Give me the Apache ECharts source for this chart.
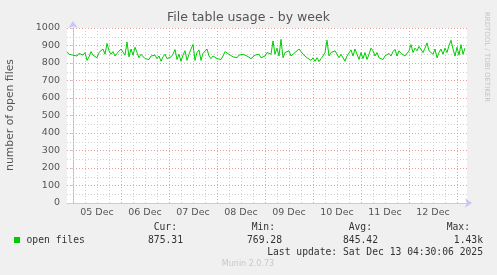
<!DOCTYPE html>
<html>
<head>
<meta charset="utf-8">
<script src="https://cdn.jsdelivr.net/npm/echarts@6/dist/echarts.min.js"></script>
<style>
html,body{margin:0;padding:0;background:#f0f0f0;}
#c{width:497px;height:275px;}
</style>
</head>
<body>
<div id="c"></div>
<script>
// Hours relative to 05 Dec 00:00; one sample per hour starting 04 Dec 21:00
const startHour = -3;
const stepHours = 1;
const openFiles = [
  865,850,855,845,850,840,855,850,845,860,815,835,865,845,855,830,860,870,880,850,
  912,870,850,865,840,855,850,880,890,845,920,835,880,845,890,860,830,850,840,825,
  835,820,840,830,845,825,840,810,835,850,825,830,
  835,850,877,820,850,810,845,870,815,850,880,906,815,860,875,815,855,860,880,840,
  825,840,830,825,835,820,840,865,860,850,840,835,825,830,845,835,850,855,840,835,
  825,815,845,855,850,830,835,840,860,855,
  850,926,850,885,840,935,830,860,850,870,840,845,860,850,880,890,850,840,830,840,
  815,830,810,830,808,825,840,860,930,840,860,850,870,880,830,850,860,810,840,850,
  875,840,880,850,820,860,825,860,820,850,
  885,870,840,860,830,840,820,840,850,855,840,865,878,840,870,855,850,840,850,870,
  905,860,885,870,895,885,860,885,915,870,880,850,880,830,860,880,850,885,860,900,
  930,880,840,890,845,905,850,885
];
const tickLabels = ['05 Dec','06 Dec','07 Dec','08 Dec','09 Dec','10 Dec','11 Dec','12 Dec'];
const tickHours = [12,36,60,84,108,132,156,180];
const dayLines = [0,24,48,72,96,120,144,168,192];
const quarterLines = [6,12,18,30,36,42,54,60,66,78,84,90,102,108,114,126,132,138,150,156,162,174,180,186];
const yTicks = [0,100,200,300,400,500,600,700,800,900,1000];
const legendHeaders = ['Cur:','Min:','Avg:','Max:'];
const legendValues = ['875.31','769.28','845.42','1.43k'];
const seriesName = 'open files';

const pts = openFiles.map((v,i)=>[startHour + i*stepHours, v]);

const chart = echarts.init(document.getElementById('c'), null, {renderer:'canvas'});
const axisCol = '#c8c8f0';
const majorGrid = {color:'#e8a0a0', type:[1,2], width:1};
const minorGrid = {color:'#d0d0d0', type:[1,2], width:1};
const mono = '"DejaVu Sans Mono", monospace';
const sans = '"DejaVu Sans", sans-serif';

const markData = [];
quarterLines.forEach(h=>markData.push({xAxis:h, lineStyle:minorGrid}));
dayLines.forEach(h=>markData.push({xAxis:h, lineStyle:majorGrid}));

const hdrRight = [177,275,372,470];
const valRight = [183,282,378,483];
const graphics = [
  {type:'text', left:'center', top:11, style:{text:'File table usage - by week', font:'12.5px '+sans, fill:'#555'}},
  {type:'text', x:10, y:115, rotation:Math.PI/2, style:{text:'number of open files', font:'10.8px '+sans, fill:'#555', align:'center', verticalAlign:'middle'}},
  {type:'text', x:487, y:57, rotation:-Math.PI/2, style:{text:'RRDTOOL / TOBI OETIKER', font:'7px '+sans, fill:'#c4c4c4', align:'center', verticalAlign:'middle'}},
  {type:'rect', shape:{x:14,y:237,width:6,height:6}, style:{fill:'#00cc00'}},
  {type:'text', x:26.5, y:240, style:{text:seriesName, font:'9.7px '+mono, fill:'#333', align:'left', verticalAlign:'middle'}},
  {type:'text', x:483, y:252, style:{text:'Last update: Sat Dec 13 04:30:06 2025', font:'9.7px '+mono, fill:'#333', align:'right', verticalAlign:'middle'}},
  {type:'text', x:248, y:264, style:{text:'Munin 2.0.73', font:'8px '+sans, fill:'#c8c8c8', align:'center', verticalAlign:'middle'}}
];
legendHeaders.forEach((t,i)=>graphics.push({type:'text', x:hdrRight[i], y:227.5, style:{text:t, font:'9.7px '+mono, fill:'#333', align:'right', verticalAlign:'middle'}}));
legendValues.forEach((t,i)=>graphics.push({type:'text', x:valRight[i], y:240, style:{text:t, font:'9.7px '+mono, fill:'#333', align:'right', verticalAlign:'middle'}}));

chart.setOption({
  backgroundColor:'#f0f0f0',
  animation:false,
  grid:{left:67, right:30, top:28, bottom:72, show:true, backgroundColor:'#ffffff', borderWidth:0},
  xAxis:{
    type:'value', min:-3, max:197,
    axisLine:{show:true, lineStyle:{color:axisCol, width:1}, symbol:['none','arrow'], symbolSize:[7,7], symbolOffset:[0,5]},
    axisTick:{show:false},
    splitLine:{show:false},
    axisLabel:{customValues:tickHours, margin:5, color:'#555', fontFamily:'DejaVu Sans', fontSize:9.5,
      formatter:(v)=>tickLabels[tickHours.indexOf(v)] || ''}
  },
  yAxis:{
    type:'value', min:0, max:1000, interval:100,
    axisLine:{show:true, lineStyle:{color:axisCol, width:1}, symbol:['none','arrow'], symbolSize:[7,7], symbolOffset:[0,7]},
    axisTick:{show:true, length:2, lineStyle:{color:axisCol}},
    splitLine:{show:true, lineStyle:majorGrid},
    minorTick:{show:false, splitNumber:2},
    minorSplitLine:{show:true, lineStyle:minorGrid},
    axisLabel:{margin:7, color:'#555', fontFamily:'DejaVu Sans', fontSize:9.5,
      formatter:(v)=>yTicks.indexOf(v)>=0 ? String(v) : ''}
  },
  graphic:graphics,
  series:[
    {type:'line', data:[], z:1, silent:true,
     markLine:{silent:true, symbol:['none','none'], label:{show:false}, animation:false, data:markData}},
    {name:seriesName, type:'line', data:pts, z:5, showSymbol:false, symbol:'none',
     lineStyle:{color:'#00cc00', width:1}, itemStyle:{color:'#00cc00'}}
  ]
});
</script>
</body>
</html>
